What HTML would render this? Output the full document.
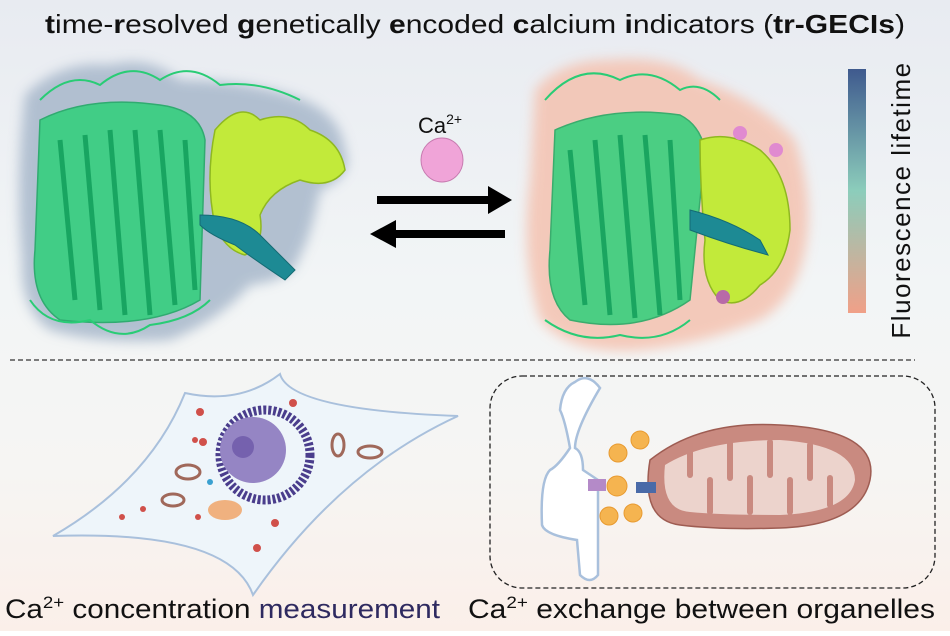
<!DOCTYPE html>
<html><head><meta charset="utf-8"><style>
html,body{margin:0;padding:0;}
body{width:950px;height:631px;overflow:hidden;font-family:"Liberation Sans",sans-serif;}
</style></head><body>
<svg width="950" height="631" viewBox="0 0 950 631" xmlns="http://www.w3.org/2000/svg" font-family="Liberation Sans, sans-serif">
<defs>
<linearGradient id="bg" x1="0" y1="0" x2="0" y2="1">
<stop offset="0" stop-color="#e8ebf1"/><stop offset="0.45" stop-color="#f2f5f6"/><stop offset="0.75" stop-color="#f6f5f3"/><stop offset="1" stop-color="#fbefe9"/></linearGradient>
<linearGradient id="cb" x1="0" y1="0" x2="0" y2="1">
<stop offset="0" stop-color="#3f5a8e"/><stop offset="0.5" stop-color="#8ccdbb"/><stop offset="1" stop-color="#f0a088"/></linearGradient>
<filter id="blur" x="-20%" y="-20%" width="140%" height="140%"><feGaussianBlur stdDeviation="6"/></filter>
</defs>
<rect width="950" height="631" fill="url(#bg)"/>
<text x="45" y="33" textLength="860" lengthAdjust="spacingAndGlyphs" font-size="26" fill="#111"><tspan font-weight="bold">t</tspan>ime-<tspan font-weight="bold">r</tspan>esolved <tspan font-weight="bold">g</tspan>enetically <tspan font-weight="bold">e</tspan>ncoded <tspan font-weight="bold">c</tspan>alcium <tspan font-weight="bold">i</tspan>ndicators (<tspan font-weight="bold">tr-GECIs</tspan>)</text>

<!-- left protein -->
<g filter="url(#blur)" fill="#a3b4c8" opacity="0.8">
<path d="M25 95 Q60 60 110 65 Q150 55 180 80 Q240 80 290 95 Q340 110 345 150 Q355 175 320 190 Q310 240 300 255 Q295 280 250 285 Q220 320 170 340 Q100 345 50 330 Q20 310 22 260 Q15 180 25 95Z"/>
</g>
<g fill="#2ed07a" stroke="#1aa860" stroke-width="1.5">
<path d="M40 120 Q90 95 160 105 Q200 110 205 140 L200 300 Q150 330 60 320 Q30 300 35 250Z" opacity="0.85"/>
</g>
<g stroke="#0f9c58" stroke-width="5" fill="none" opacity="0.8">
<path d="M60 140 L75 300"/><path d="M85 135 L100 310"/><path d="M110 130 L125 315"/><path d="M135 130 L150 315"/><path d="M160 130 L175 305"/><path d="M185 140 L195 290"/>
</g>
<g stroke="#29cc75" stroke-width="2" fill="none">
<path d="M40 100 Q70 70 100 85 Q130 60 160 80 Q190 60 220 85 Q260 80 300 100"/>
<path d="M30 300 Q50 330 90 320 Q120 345 150 325 Q190 320 210 300"/>
</g>
<g fill="#c2ea3a" stroke="#8fb820" stroke-width="1.5">
<path d="M215 130 Q240 100 260 120 Q290 110 310 130 Q340 140 345 170 Q330 190 300 180 Q270 190 260 215 Q265 245 245 255 Q225 250 215 225 Q205 180 215 130Z"/>
</g>
<path d="M200 215 Q240 215 260 235 Q285 260 295 270 L285 280 Q255 260 235 245 Q210 235 200 225Z" fill="#1d8a94" stroke="#146b73"/>

<!-- Ca ion + arrows -->
<text x="418" y="133" font-size="22" fill="#111">Ca<tspan font-size="14" dy="-9">2+</tspan></text>
<ellipse cx="442" cy="160" rx="21" ry="22" fill="#f0a4d8" stroke="#c77bb0" stroke-width="1"/>
<path d="M377 196 L488 196 L488 186 L512 200 L488 214 L488 204 L377 204Z" fill="#000"/>
<path d="M505 230 L396 230 L396 220 L370 234 L396 248 L396 238 L505 238Z" fill="#000"/>

<!-- right protein -->
<g filter="url(#blur)" fill="#f4c2b0" opacity="0.85">
<path d="M535 90 Q560 60 610 60 Q670 55 700 80 Q760 100 795 140 Q815 200 805 250 Q795 300 760 320 Q700 345 640 350 Q570 355 540 320 Q520 260 530 180Z"/>
</g>
<g fill="#2ed07a" stroke="#1aa860" stroke-width="1.5">
<path d="M555 130 Q610 105 680 115 Q700 125 705 150 L690 300 Q640 335 570 320 Q545 300 550 250Z" opacity="0.85"/>
</g>
<g stroke="#0f9c58" stroke-width="5" fill="none" opacity="0.8">
<path d="M570 150 L585 305"/><path d="M595 140 L610 315"/><path d="M620 135 L635 318"/><path d="M645 135 L660 315"/><path d="M670 140 L680 300"/>
</g>
<g stroke="#29cc75" stroke-width="2" fill="none">
<path d="M545 100 Q580 60 620 80 Q650 65 680 90 Q700 80 720 100"/>
<path d="M545 320 Q580 345 620 335 Q660 345 690 320"/>
</g>
<g fill="#c2ea3a" stroke="#8fb820" stroke-width="1.5">
<path d="M700 140 Q730 130 760 150 Q790 175 790 230 Q785 270 760 285 Q740 310 720 300 Q700 280 705 240 Q700 190 700 140Z"/>
</g>
<path d="M690 210 Q730 220 760 240 L768 255 Q730 245 690 230Z" fill="#1d8a94" stroke="#146b73"/>
<circle cx="740" cy="133" r="7" fill="#e08ad0"/>
<circle cx="776" cy="150" r="7" fill="#e08ad0"/>
<circle cx="723" cy="297" r="7" fill="#b86aa8"/>

<!-- colorbar -->
<rect x="848" y="69" width="18" height="244" fill="url(#cb)"/>
<text transform="translate(910,200) rotate(-90)" text-anchor="middle" font-size="26" letter-spacing="1.5" fill="#111">Fluorescence lifetime</text>

<line x1="10" y1="360" x2="915" y2="360" stroke="#333" stroke-width="1.3" stroke-dasharray="5,3"/>

<!-- cell -->
<path d="M280 374 Q290 410 458 416 Q340 470 253 595 Q230 530 53 536 Q150 480 185 393 Q240 405 280 374Z" fill="#eef5fa" stroke="#a9c0dc" stroke-width="2"/>
<circle cx="265" cy="455" r="45" fill="none" stroke="#4a3d8c" stroke-width="9" stroke-dasharray="3,2"/>
<circle cx="253" cy="450" r="33" fill="#9585c4"/>
<circle cx="243" cy="447" r="11" fill="#7561ae"/>
<g fill="#d0504a">
<circle cx="200" cy="412" r="4"/><circle cx="293" cy="403" r="4"/><circle cx="275" cy="523" r="4"/><circle cx="257" cy="548" r="4"/><circle cx="122" cy="517" r="3"/><circle cx="143" cy="509" r="3"/><circle cx="198" cy="517" r="3"/><circle cx="203" cy="442" r="4"/><circle cx="195" cy="440" r="3"/>
</g>
<g fill="none" stroke="#a0685a" stroke-width="3">
<ellipse cx="188" cy="472" rx="12" ry="7"/><ellipse cx="173" cy="500" rx="11" ry="6"/><ellipse cx="338" cy="445" rx="6" ry="11"/><ellipse cx="370" cy="452" rx="12" ry="6"/>
</g>
<ellipse cx="225" cy="510" rx="17" ry="10" fill="#f0a060" opacity="0.8"/>
<circle cx="210" cy="482" r="3" fill="#3aa0d0"/>

<!-- organelle box -->
<rect x="490" y="376" width="445" height="212" rx="32" fill="none" stroke="#222" stroke-width="1.3" stroke-dasharray="5,3"/>
<path d="M575 382 Q588 372 600 388 Q575 430 575 448 Q583 452 583 470 L598 480 L598 575 Q590 585 580 575 L577 540 Q545 535 542 525 Q540 480 550 470 Q558 466 570 448 Q565 420 560 410 Q562 388 575 382Z" fill="#fff" stroke="#a9c0dc" stroke-width="2.5"/>
<path d="M650 460 Q700 420 780 425 Q880 430 870 480 Q860 525 780 528 Q720 530 680 525 Q640 520 650 460Z" fill="#c98a80" stroke="#9e5c52" stroke-width="1.5"/>
<path d="M665 465 Q705 440 780 440 Q855 445 855 480 Q850 512 780 515 Q720 515 690 512 Q660 510 665 465Z" fill="#ecd3cc"/>
<g stroke="#c98a80" stroke-width="6" stroke-linecap="round">
<line x1="690" y1="445" x2="690" y2="475"/><line x1="710" y1="512" x2="710" y2="480"/><line x1="730" y1="442" x2="730" y2="478"/><line x1="750" y1="512" x2="750" y2="478"/><line x1="770" y1="442" x2="770" y2="475"/><line x1="790" y1="512" x2="790" y2="480"/><line x1="810" y1="445" x2="810" y2="478"/><line x1="830" y1="505" x2="830" y2="478"/>
</g>
<g fill="#f5b450" stroke="#e89a30">
<circle cx="618" cy="453" r="9"/><circle cx="640" cy="440" r="9"/><circle cx="617" cy="486" r="10"/><circle cx="609" cy="516" r="9"/><circle cx="633" cy="513" r="9"/>
</g>
<rect x="588" y="479" width="18" height="12" fill="#b48ac8"/>
<rect x="636" y="482" width="20" height="11" fill="#4a6aa8"/>

<text x="5" y="618" font-size="27" fill="#111" textLength="435" lengthAdjust="spacingAndGlyphs">Ca<tspan font-size="17" dy="-10">2+</tspan><tspan dy="10"> concentration </tspan><tspan fill="#2e2a60">measurement</tspan></text>
<text x="468" y="618" font-size="27" fill="#111" textLength="467" lengthAdjust="spacingAndGlyphs">Ca<tspan font-size="17" dy="-10">2+</tspan><tspan dy="10"> exchange between organelles</tspan></text>
</svg>
</body></html>
